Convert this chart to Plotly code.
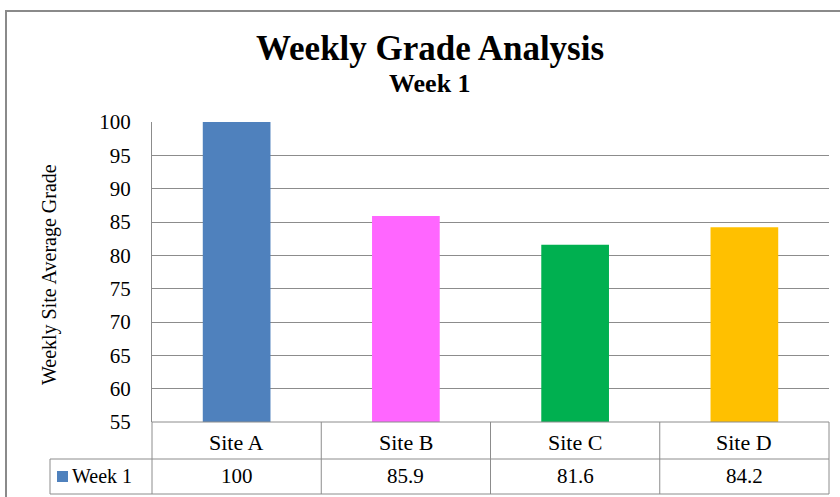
import plotly.graph_objects as go

categories = ["Site A", "Site B", "Site C", "Site D"]
values = [100, 85.9, 81.6, 84.2]
value_labels = ["100", "85.9", "81.6", "84.2"]
series_name = "Week 1"
bar_colors = ["#4F81BD", "#FF66FF", "#00B050", "#FFC000"]
y_ticks = [55, 60, 65, 70, 75, 80, 85, 90, 95, 100]

W, H = 840, 497
L, R, T, B = 152, 11, 122, 75
PW, PH = W - L - R, H - T - B
FONT = "Liberation Serif"
GRID = "#8c8c8c"


def px(x):
    return (x - L) / PW


def py(y):
    return (H - B - y) / PH


fig = go.Figure()
fig.add_trace(go.Bar(x=categories, y=values, marker=dict(color=bar_colors, line=dict(width=0)),
                     name=series_name, showlegend=False))

n = len(categories)
row1 = py(459)
row2 = py(494)
leg_left = px(50)
shapes = []
line = dict(color=GRID, width=1)
shapes.append(dict(type="line", xref="paper", yref="paper", x0=0, x1=1, y0=0, y1=0, line=line))
shapes.append(dict(type="line", xref="paper", yref="paper", x0=leg_left, x1=1, y0=row1, y1=row1, line=line))
shapes.append(dict(type="line", xref="paper", yref="paper", x0=leg_left, x1=1, y0=row2, y1=row2, line=line))
shapes.append(dict(type="line", xref="paper", yref="paper", x0=leg_left, x1=leg_left, y0=row1, y1=row2, line=line))
for i in range(n + 1):
    shapes.append(dict(type="line", xref="paper", yref="paper", x0=i / n, x1=i / n, y0=0, y1=row2, line=line))
# legend key
shapes.append(dict(type="rect", xref="paper", yref="paper", x0=px(57), x1=px(68), y0=py(471), y1=py(482),
                   fillcolor=bar_colors[0], line=dict(width=0)))
# outer frame
shapes.append(dict(type="rect", xref="paper", yref="paper", x0=px(6), x1=px(900), y0=py(11), y1=py(560),
                   line=dict(color="#8a8a8a", width=2), fillcolor="rgba(0,0,0,0)"))


def ann(text, x, y, size, xanchor="center", **kw):
    return dict(text=text, x=x, y=y, xref="paper", yref="paper", showarrow=False,
                xanchor=xanchor, yanchor="middle", font=dict(family=FONT, size=size, color="black"), **kw)


annotations = []
for i, (c, v) in enumerate(zip(categories, value_labels)):
    xc = (i + 0.5) / n
    annotations.append(ann(c, xc, py(442), 22))
    annotations.append(ann(v, xc, py(476), 21))
annotations.append(ann(series_name, px(70), py(476), 20, xanchor="left"))
annotations.append(ann("<b>Weekly Grade Analysis</b>", px(430), py(48), 35))
annotations.append(ann("<b>Week 1</b>", px(430), py(83), 26))
annotations.append(ann("Weekly Site Average Grade", px(49), py(274), 20, textangle=-90))

fig.update_layout(
    width=W, height=H,
    margin=dict(l=L, r=R, t=T, b=B),
    paper_bgcolor="white", plot_bgcolor="white",
    bargap=0.6,
    shapes=shapes, annotations=annotations,
    xaxis=dict(type="category", range=[-0.5, n - 0.5], showticklabels=False, showgrid=False,
               zeroline=False, showline=False, ticks=""),
    yaxis=dict(range=[55, 100], tickvals=y_ticks, showgrid=True, gridcolor=GRID, gridwidth=1,
               zeroline=False, showline=True, linecolor=GRID, linewidth=1, ticks="",
               ticklabelstandoff=16, tickfont=dict(family=FONT, size=21, color="black")),
    font=dict(family=FONT),
)

fig.write_html("out.html", config={"displayModeBar": False},
               post_script="document.body.style.margin='0';document.body.style.overflow='hidden';")
